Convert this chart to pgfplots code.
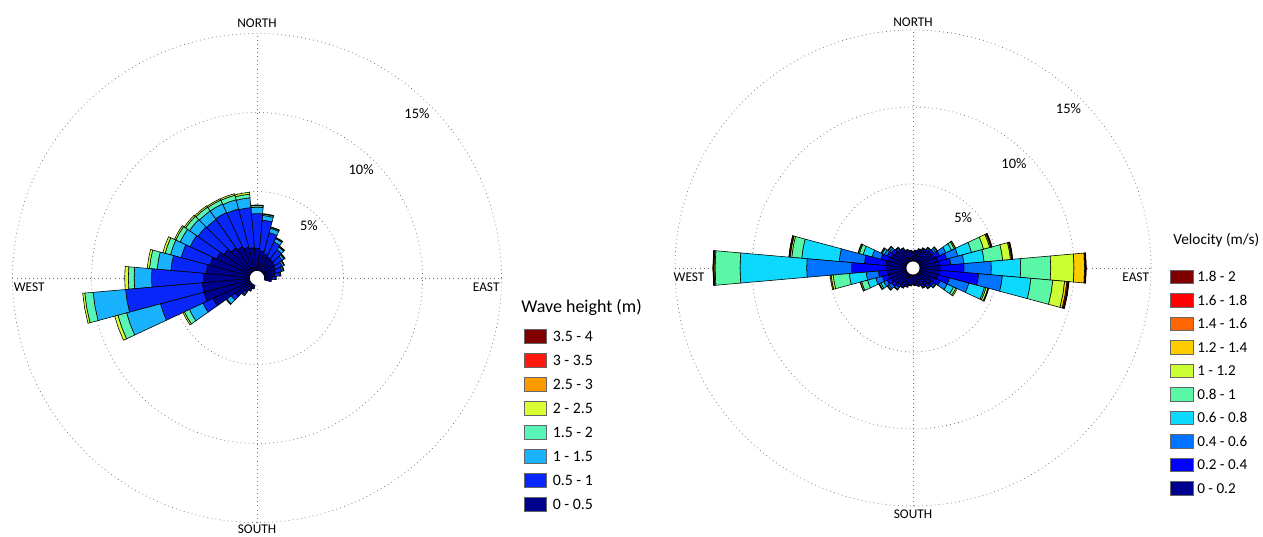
\documentclass[border=0pt]{standalone}
\usepackage{pgfplots}
\pgfplotsset{compat=1.18}
\usepackage{pgfplotstable}
\usepackage{fontspec}
\setmainfont{Carlito}

\definecolor{wh1}{rgb}{0,0,0.56}
\definecolor{wh2}{rgb}{0.03,0.15,0.98}
\definecolor{wh3}{rgb}{0.1,0.7,1}
\definecolor{wh4}{rgb}{0.35,0.96,0.72}
\definecolor{wh5}{rgb}{0.85,1,0.2}
\definecolor{wh6}{rgb}{1,0.6,0}
\definecolor{wh7}{rgb}{1,0.1,0.05}
\definecolor{wh8}{rgb}{0.5,0,0}

\definecolor{vel1}{rgb}{0,0,0.56}
\definecolor{vel2}{rgb}{0,0,1}
\definecolor{vel3}{rgb}{0,0.45,1}
\definecolor{vel4}{rgb}{0.05,0.85,1}
\definecolor{vel5}{rgb}{0.35,0.97,0.65}
\definecolor{vel6}{rgb}{0.8,1,0.2}
\definecolor{vel7}{rgb}{1,0.8,0}
\definecolor{vel8}{rgb}{1,0.4,0}
\definecolor{vel9}{rgb}{1,0,0}
\definecolor{vel10}{rgb}{0.5,0,0}

% Wave rose: direction (math angle, deg) and cumulative frequency (%) per height class
\pgfplotstableread{
dir b1   b2   b3   b4    b5
350 0.35 0.45 0.45 0.45  0.45
0   0.5  0.7  0.75 0.75  0.75
10  0.65 0.95 1.02 1.04  1.05
20  0.75 1.15 1.25 1.28  1.30
30  0.8  1.28 1.40 1.43  1.45
40  0.9  1.48 1.62 1.67  1.70
50  0.95 1.72 1.92 1.97  2.0
60  1.0  2.05 2.28 2.33  2.36
70  1.1  2.5  2.78 2.85  2.88
80  1.25 3.2  3.5  3.58  3.62
90  1.4  3.6  4.0  4.1   4.15
100 1.45 4.0  4.62 4.85  4.97
110 1.55 4.05 4.65 4.95  5.05
120 1.7  4.1  4.7  4.97  5.06
130 1.85 4.05 4.7  5.0   5.1
140 2.1  4.1  4.75 5.05  5.15
150 2.35 4.2  4.9  5.2   5.3
160 2.6  4.5  5.2  5.55  5.7
170 2.75 5.0  5.87 6.36  6.5
180 2.9  6.2  7.3  7.67  7.9
190 3.0  7.88 9.94 10.47 10.6
200 3.0  5.85 8.07 8.64  8.85
210 2.6  3.3  4.25 4.6   4.7
220 1.2  1.5  1.85 1.88  1.9
230 0.6  0.8  0.88 0.9   0.9
240 0.3  0.4  0.45 0.45  0.45
250 0.2  0.25 0.25 0.25  0.25
}\waveTable

% Current rose: cumulative frequency (%) per velocity class
\pgfplotstableread{
dir b1   b2   b3   b4    b5    b6    b7    b8    b9    b10
0   1.3  2.86 4.63 6.54  8.49  10.0  10.69 10.75 10.78 10.8
10  1.3  2.0  2.86 4.18  5.39  5.9   5.97  6.01  6.03  6.05
20  1.2  1.8  2.56 3.48  4.29  4.7   4.78  4.82  4.84  4.86
30  1.1  1.45 1.9  2.3   2.5   2.58  2.6   2.6   2.6   2.6
40  1.0  1.2  1.35 1.45  1.5   1.5   1.5   1.5   1.5   1.5
50  0.9  1.05 1.15 1.2   1.2   1.2   1.2   1.2   1.2   1.2
60  0.8  0.9  0.97 1.0   1.0   1.0   1.0   1.0   1.0   1.0
70  0.7  0.8  0.85 0.85  0.85  0.85  0.85  0.85  0.85  0.85
80  0.62 0.7  0.72 0.72  0.72  0.72  0.72  0.72  0.72  0.72
90  0.55 0.63 0.66 0.66  0.66  0.66  0.66  0.66  0.66  0.66
100 0.6  0.68 0.7  0.7   0.7   0.7   0.7   0.7   0.7   0.7
110 0.68 0.78 0.8  0.8   0.8   0.8   0.8   0.8   0.8   0.8
120 0.78 0.9  0.97 1.0   1.0   1.0   1.0   1.0   1.0   1.0
130 0.9  1.05 1.15 1.2   1.2   1.2   1.2   1.2   1.2   1.2
140 1.0  1.25 1.4  1.5   1.55  1.55  1.55  1.55  1.55  1.55
150 1.1  1.4  1.6  1.75  1.82  1.84  1.84  1.84  1.84  1.84
160 1.2  1.7  2.3  2.9   3.15  3.22  3.25  3.25  3.25  3.25
170 1.3  2.71 4.36 6.8   7.45  7.55  7.6   7.62  7.63  7.64
180 1.25 3.53 6.45 10.78 12.4  12.47 12.5  12.52 12.53 12.54
190 1.2  1.8  2.6  3.7   4.75  4.88  4.95  4.95  4.95  4.95
200 1.2  1.6  2.05 2.6   3.0   3.08  3.1   3.1   3.1   3.1
210 1.1  1.4  1.65 1.85  1.95  2.0   2.0   2.0   2.0   2.0
220 1.0  1.25 1.45 1.55  1.6   1.6   1.6   1.6   1.6   1.6
230 0.9  1.1  1.25 1.3   1.3   1.3   1.3   1.3   1.3   1.3
240 0.8  0.95 1.0  1.0   1.0   1.0   1.0   1.0   1.0   1.0
250 0.7  0.8  0.85 0.85  0.85  0.85  0.85  0.85  0.85  0.85
260 0.62 0.7  0.72 0.72  0.72  0.72  0.72  0.72  0.72  0.72
270 0.55 0.63 0.66 0.66  0.66  0.66  0.66  0.66  0.66  0.66
280 0.6  0.68 0.7  0.7   0.7   0.7   0.7   0.7   0.7   0.7
290 0.68 0.78 0.8  0.8   0.8   0.8   0.8   0.8   0.8   0.8
300 0.78 0.9  0.97 1.0   1.0   1.0   1.0   1.0   1.0   1.0
310 0.9  1.05 1.15 1.2   1.2   1.2   1.2   1.2   1.2   1.2
320 1.0  1.2  1.33 1.39  1.39  1.39  1.39  1.39  1.39  1.39
330 1.1  1.5  2.0  2.45  2.62  2.71  2.71  2.71  2.71  2.71
340 1.2  2.0  3.3  4.35  4.45  4.58  4.62  4.64  4.64  4.64
350 1.3  3.83 5.37 7.23  8.66  9.43  9.58  9.65  9.7   9.72
}\velTable

% #1 table, #2 number of classes, #3 colour prefix, #4 radius of the central hole
\newcommand{\drawrose}[4]{%
  \pgfplotstablegetrowsof{#1}%
  \pgfmathtruncatemacro{\lastrow}{\pgfplotsretval-1}%
  \foreach \i in {0,...,\lastrow}{%
    \pgfplotstablegetelem{\i}{dir}\of{#1}\let\d\pgfplotsretval
    \foreach \j in {1,...,#2}{%
      \ifnum\j=1 \def\rin{0}\else
        \pgfmathtruncatemacro{\jm}{\j-1}%
        \pgfplotstablegetelem{\i}{b\jm}\of{#1}\let\rin\pgfplotsretval
      \fi
      \pgfplotstablegetelem{\i}{b\j}\of{#1}\let\rout\pgfplotsretval
      \ifdim\rout pt>\rin pt
        \pgfmathsetmacro{\aL}{\d-5}\pgfmathsetmacro{\aR}{\d+5}%
        \pgfmathsetmacro{\ri}{\rin+#4}\pgfmathsetmacro{\ro}{\rout+#4}%
        \edef\cmd{\noexpand\addplot[fill=#3\j, draw=black, line width=0.35pt, data cs=polar]
          coordinates {(\aL,\ri) (\d,\ri) (\aR,\ri) (\aR,\ro) (\d,\ro) (\aL,\ro)} -- cycle;}%
        \cmd
      \fi
    }%
  }%
}

\pgfplotsset{rose/.style={scale only axis, hide axis, clip=false,
  xmin=-16, xmax=16, ymin=-16, ymax=16, anchor=center}}
\tikzset{gridl/.style={draw=black!55, dotted, line width=0.45pt},
  dirl/.style={font=\fontsize{8}{9}\selectfont, inner sep=0pt},
  pctl/.style={font=\fontsize{8.7}{10}\selectfont, inner sep=0pt, anchor=east}}

\begin{document}
\begin{tikzpicture}
\path[use as bounding box] (0,0) rectangle (757.8pt,321.6pt);

% ---------- wave rose ----------
\begin{axis}[rose, at={(154.2pt,154.8pt)}, width=303.36pt, height=303.36pt]
  \draw[gridl] (axis cs:0,0) circle[radius=5.475];
  \draw[gridl] (axis cs:0,0) circle[radius=10.475];
  \draw[gridl] (axis cs:0,0) circle[radius=15.475];
  \draw[gridl] (axis cs:-15.475,0) -- (axis cs:15.475,0);
  \draw[gridl] (axis cs:0,-15.475) -- (axis cs:0,15.475);
  \fill[white] (axis cs:0,0) circle[radius=0.475];
  \drawrose{\waveTable}{5}{wh}{0.475}
  \node[pctl, yshift=-5.2pt] at (axis cs:{5.475*cos(45)},{5.475*sin(45)}) {5\%};
  \node[pctl, yshift=-5.2pt] at (axis cs:{10.475*cos(45)},{10.475*sin(45)}) {10\%};
  \node[pctl, yshift=-5.2pt] at (axis cs:{15.475*cos(45)},{15.475*sin(45)}) {15\%};
  \node[dirl, anchor=south, yshift=3.2pt] at (axis cs:0,15.475) {NORTH};
  \node[dirl, anchor=north, yshift=-1.2pt] at (axis cs:0,-15.475) {SOUTH};
  \node[dirl, anchor=north west, yshift=-2.5pt, xshift=0.6pt] at (axis cs:-15.475,0) {WEST};
  \node[dirl, anchor=north east, yshift=-2.5pt, xshift=-1pt] at (axis cs:15.475,0) {EAST};
\end{axis}

% ---------- current rose ----------
\begin{axis}[rose, at={(547.8pt,160.8pt)}, width=295.68pt, height=295.68pt]
  \draw[gridl] (axis cs:0,0) circle[radius=5.455];
  \draw[gridl] (axis cs:0,0) circle[radius=10.455];
  \draw[gridl] (axis cs:0,0) circle[radius=15.455];
  \draw[gridl] (axis cs:-15.455,0) -- (axis cs:15.455,0);
  \draw[gridl] (axis cs:0,-15.455) -- (axis cs:0,15.455);
  \fill[white] (axis cs:0,0) circle[radius=0.455];
  \drawrose{\velTable}{10}{vel}{0.455}
  \node[pctl, yshift=-5.4pt] at (axis cs:{5.455*cos(45)},{5.455*sin(45)}) {5\%};
  \node[pctl, yshift=-5.4pt] at (axis cs:{10.455*cos(45)},{10.455*sin(45)}) {10\%};
  \node[pctl, yshift=-5.4pt] at (axis cs:{15.455*cos(45)},{15.455*sin(45)}) {15\%};
  \node[dirl, anchor=south, yshift=2pt] at (axis cs:0,15.455) {NORTH};
  \node[dirl, anchor=north, yshift=-2pt] at (axis cs:0,-15.455) {SOUTH};
  \node[dirl, anchor=north west, yshift=-2.5pt, xshift=-1pt] at (axis cs:-15.455,0) {WEST};
  \node[dirl, anchor=north east, yshift=-2.5pt, xshift=-1pt] at (axis cs:15.455,0) {EAST};
\end{axis}

% ---------- legends (pixel grid of the reference) ----------
\begin{scope}[x=0.6pt, y=-0.6pt, yshift=321.6pt]
  \node[anchor=west, inner sep=0pt, font=\fontsize{10.8}{12}\selectfont] at (521,307) {Wave height (m)};
  \foreach \c/\lab [count=\n from 0] in {wh8/3.5 - 4, wh7/3 - 3.5, wh6/2.5 - 3, wh5/2 - 2.5,
      wh4/1.5 - 2, wh3/1 - 1.5, wh2/0.5 - 1, wh1/0 - 0.5}{
    \pgfmathsetmacro\yy{336+24*\n}
    \filldraw[fill=\c, draw=black!60, line width=0.4pt] (524,\yy-7) rectangle (546.5,\yy+7);
    \node[anchor=west, inner sep=0pt, font=\fontsize{9.5}{11}\selectfont] at (552.5,\yy) {\lab};
  }
  \node[anchor=west, inner sep=0pt, font=\fontsize{9.2}{11}\selectfont] at (1173,240) {Velocity (m/s)};
  \foreach \c/\lab [count=\n from 0] in {vel10/1.8 - 2, vel9/1.6 - 1.8, vel8/1.4 - 1.6, vel7/1.2 - 1.4,
      vel6/1 - 1.2, vel5/0.8 - 1, vel4/0.6 - 0.8, vel3/0.4 - 0.6, vel2/0.2 - 0.4, vel1/0 - 0.2}{
    \pgfmathsetmacro\yy{276.7+23.5*\n}
    \filldraw[fill=\c, draw=black!60, line width=0.4pt] (1170,\yy-6.7) rectangle (1193,\yy+6.7);
    \node[anchor=west, inner sep=0pt, font=\fontsize{9.1}{11}\selectfont] at (1197,\yy) {\lab};
  }
\end{scope}
\end{tikzpicture}
\end{document}
